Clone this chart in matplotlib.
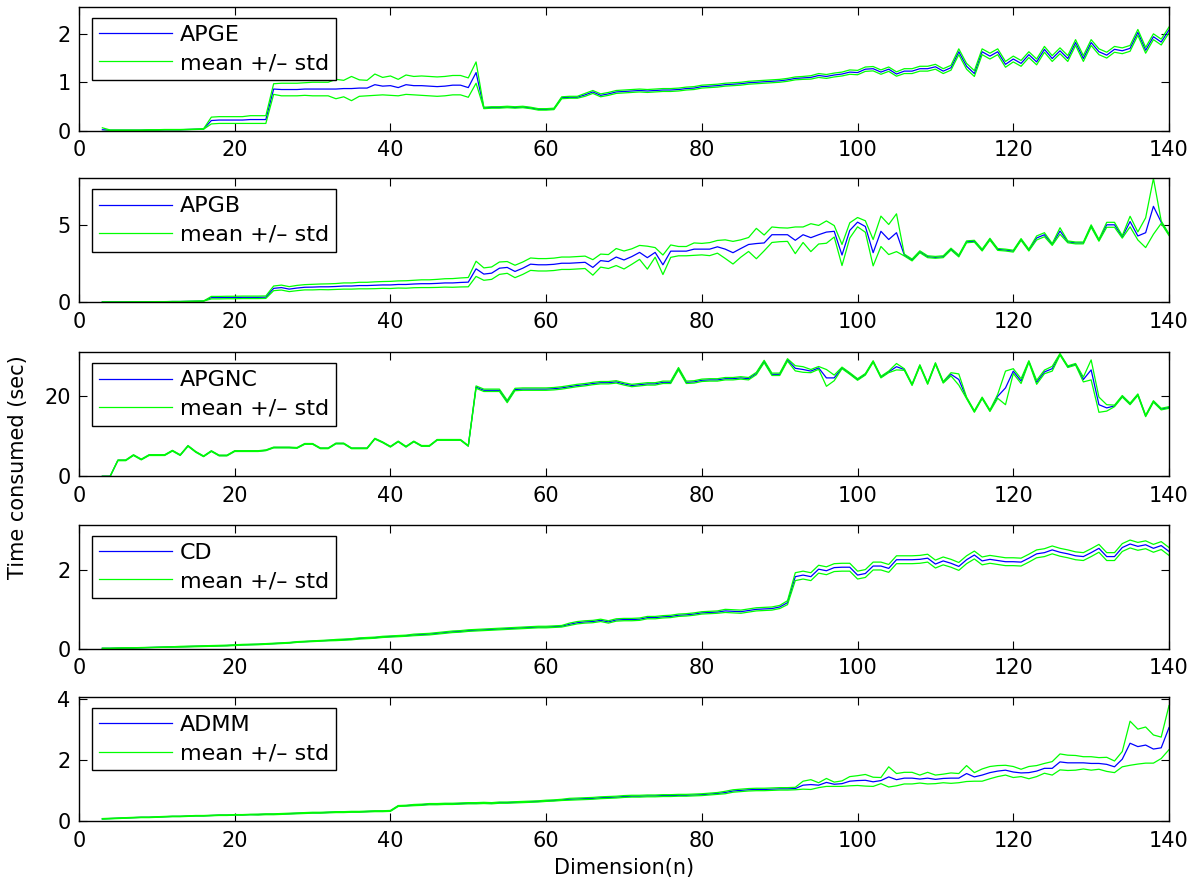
import numpy as np
import matplotlib
matplotlib.use('Agg')
import matplotlib.pyplot as plt

# ---------------- data (n = 3 .. 140) ----------------
n_values = list(range(3, 141))

method_names = ['APGE', 'APGB', 'APGNC', 'CD', 'ADMM']

apge_mean = [
    0.02, 0.01, 0.01, 0.01, 0.01, 0.01, 0.015, 0.015, 0.02, 0.02,
    0.02, 0.025, 0.03, 0.035, 0.21, 0.22, 0.22, 0.22, 0.22, 0.23,
    0.23, 0.23, 0.86, 0.85, 0.85, 0.85, 0.86, 0.86, 0.86, 0.86,
    0.86, 0.87, 0.87, 0.88, 0.88, 0.95, 0.92, 0.93, 0.89, 0.95,
    0.93, 0.93, 0.92, 0.91, 0.92, 0.94, 0.94, 0.89, 1.20, 0.47,
    0.48, 0.48, 0.49, 0.48, 0.49, 0.47, 0.44, 0.44, 0.45, 0.68,
    0.69, 0.69, 0.74, 0.80, 0.73, 0.76, 0.80, 0.81, 0.82, 0.83,
    0.82, 0.83, 0.84, 0.84, 0.85, 0.87, 0.88, 0.91, 0.92, 0.93,
    0.95, 0.96, 0.97, 0.99, 1.00, 1.01, 1.02, 1.03, 1.05, 1.08,
    1.09, 1.10, 1.14, 1.12, 1.15, 1.17, 1.21, 1.20, 1.27, 1.28,
    1.21, 1.27, 1.17, 1.23, 1.23, 1.28, 1.28, 1.32, 1.23, 1.30,
    1.63, 1.33, 1.18, 1.63, 1.54, 1.63, 1.37, 1.48, 1.39, 1.57,
    1.42, 1.68, 1.49, 1.65, 1.49, 1.82, 1.49, 1.82, 1.63, 1.56,
    1.68, 1.65, 1.70, 2.03, 1.66, 1.94, 1.83, 2.08]
apge_std = [
    0.04, 0.005, 0.005, 0.005, 0.005, 0.005, 0.005, 0.005, 0.005, 0.005,
    0.005, 0.005, 0.005, 0.005, 0.07, 0.07, 0.07, 0.07, 0.07, 0.08,
    0.08, 0.08, 0.11, 0.13, 0.13, 0.13, 0.13, 0.14, 0.14, 0.14,
    0.20, 0.17, 0.25, 0.17, 0.16, 0.22, 0.18, 0.20, 0.17, 0.20,
    0.19, 0.20, 0.20, 0.20, 0.20, 0.20, 0.20, 0.20, 0.22, 0.015,
    0.015, 0.015, 0.015, 0.015, 0.015, 0.015, 0.015, 0.015, 0.015, 0.02,
    0.02, 0.02, 0.03, 0.03, 0.03, 0.03, 0.03, 0.03, 0.03, 0.03,
    0.03, 0.03, 0.03, 0.03, 0.03, 0.03, 0.03, 0.03, 0.03, 0.03,
    0.03, 0.03, 0.03, 0.03, 0.03, 0.03, 0.03, 0.03, 0.03, 0.03,
    0.03, 0.035, 0.04, 0.04, 0.04, 0.04, 0.045, 0.045, 0.045, 0.045,
    0.045, 0.045, 0.045, 0.05, 0.05, 0.05, 0.05, 0.05, 0.05, 0.05,
    0.06, 0.06, 0.06, 0.06, 0.06, 0.06, 0.06, 0.06, 0.06, 0.06,
    0.06, 0.06, 0.06, 0.06, 0.06, 0.06, 0.06, 0.06, 0.06, 0.06,
    0.06, 0.06, 0.06, 0.06, 0.06, 0.06, 0.06, 0.06]

apgb_mean = [
    0.02, 0.02, 0.02, 0.02, 0.03, 0.03, 0.03, 0.04, 0.04, 0.05,
    0.05, 0.06, 0.07, 0.08, 0.30, 0.30, 0.31, 0.31, 0.32, 0.32,
    0.32, 0.33, 0.90, 0.95, 0.85, 0.92, 0.97, 0.98, 1.00, 1.00,
    1.02, 1.05, 1.05, 1.08, 1.08, 1.10, 1.12, 1.12, 1.15, 1.15,
    1.18, 1.20, 1.20, 1.22, 1.25, 1.25, 1.28, 1.30, 2.16, 1.82,
    1.88, 2.20, 2.25, 1.99, 2.20, 2.46, 2.42, 2.42, 2.45, 2.52,
    2.52, 2.55, 2.58, 2.25, 2.69, 2.63, 2.92, 2.73, 2.95, 3.22,
    2.88, 3.22, 2.42, 3.30, 3.30, 3.30, 3.43, 3.43, 3.43, 3.58,
    3.43, 3.20, 3.47, 3.73, 3.79, 3.83, 4.36, 4.36, 4.36, 4.00,
    4.36, 4.17, 4.36, 4.53, 4.58, 3.05, 4.64, 5.17, 4.89, 3.20,
    4.58, 4.05, 4.49, 3.05, 2.73, 3.26, 2.94, 2.90, 2.94, 3.43,
    2.99, 3.90, 3.94, 3.37, 4.07, 3.41, 3.37, 3.30, 4.05, 3.37,
    4.15, 4.36, 3.73, 4.60, 3.90, 3.83, 3.83, 4.92, 4.00, 5.00,
    5.00, 4.22, 5.21, 4.28, 4.49, 6.19, 5.17, 4.36]
apgb_std = [
    0.005, 0.005, 0.005, 0.005, 0.005, 0.005, 0.005, 0.005, 0.005, 0.005,
    0.005, 0.005, 0.005, 0.005, 0.08, 0.08, 0.08, 0.08, 0.08, 0.08,
    0.08, 0.08, 0.15, 0.16, 0.16, 0.17, 0.17, 0.18, 0.18, 0.19,
    0.19, 0.20, 0.20, 0.21, 0.21, 0.22, 0.22, 0.23, 0.23, 0.24,
    0.24, 0.25, 0.25, 0.26, 0.27, 0.28, 0.29, 0.30, 0.49, 0.40,
    0.40, 0.40, 0.38, 0.40, 0.40, 0.40, 0.40, 0.40, 0.40, 0.40,
    0.40, 0.40, 0.40, 0.50, 0.42, 0.45, 0.55, 0.58, 0.50, 0.45,
    0.74, 0.31, 0.63, 0.40, 0.30, 0.30, 0.40, 0.37, 0.42, 0.41,
    0.60, 0.73, 0.56, 0.45, 0.98, 0.51, 0.50, 0.45, 0.43, 0.86,
    0.50, 0.90, 0.60, 0.72, 0.37, 0.68, 0.49, 0.30, 0.37, 0.85,
    0.98, 0.97, 1.22, 0.06, 0.06, 0.06, 0.06, 0.06, 0.06, 0.06,
    0.06, 0.06, 0.06, 0.06, 0.06, 0.06, 0.06, 0.06, 0.06, 0.06,
    0.13, 0.13, 0.06, 0.21, 0.06, 0.06, 0.06, 0.08, 0.06, 0.16,
    0.16, 0.08, 0.34, 0.26, 0.96, 1.80, 0.08, 0.05]

apgnc_mean = [
    0.0, 0.0, 4.0, 4.0, 5.3, 4.2, 5.3, 5.3, 5.3, 6.4,
    5.3, 7.6, 6.1, 5.0, 6.3, 5.2, 5.2, 6.3, 6.3, 6.3,
    6.3, 6.5, 7.2, 7.2, 7.2, 7.1, 8.1, 8.1, 7.0, 7.0,
    8.2, 8.2, 7.0, 7.0, 7.0, 9.4, 8.5, 7.4, 8.7, 7.4,
    8.7, 7.6, 7.6, 9.1, 9.1, 9.1, 9.1, 7.6, 22.3, 21.5,
    21.5, 21.5, 18.7, 21.7, 21.8, 21.8, 21.8, 21.8, 21.9, 22.1,
    22.4, 22.7, 22.9, 23.2, 23.4, 23.4, 23.6, 23.1, 22.7, 22.9,
    23.1, 23.1, 23.5, 23.5, 26.9, 23.5, 23.6, 24.0, 24.1, 24.1,
    24.4, 24.4, 24.6, 24.4, 25.7, 28.7, 25.5, 25.5, 29.1, 27.0,
    26.7, 26.3, 27.1, 24.6, 24.6, 27.1, 25.7, 24.2, 25.5, 28.7,
    24.8, 26.1, 27.4, 26.7, 22.9, 27.7, 23.2, 28.2, 23.5, 25.5,
    24.2, 19.6, 16.2, 19.6, 16.4, 20.0, 22.1, 26.3, 23.8, 28.7,
    23.5, 26.1, 26.9, 30.5, 27.4, 28.0, 24.2, 26.6, 17.9, 17.1,
    17.6, 20.0, 18.1, 20.4, 15.1, 18.7, 16.8, 17.2]
apgnc_std = [
    0.0, 0.0, 0.1, 0.1, 0.1, 0.1, 0.1, 0.1, 0.1, 0.1,
    0.1, 0.1, 0.1, 0.1, 0.1, 0.1, 0.1, 0.1, 0.1, 0.1,
    0.1, 0.1, 0.1, 0.1, 0.1, 0.1, 0.1, 0.1, 0.1, 0.1,
    0.1, 0.1, 0.1, 0.1, 0.1, 0.1, 0.1, 0.1, 0.1, 0.1,
    0.1, 0.1, 0.1, 0.1, 0.1, 0.1, 0.1, 0.1, 0.3, 0.3,
    0.3, 0.3, 0.3, 0.3, 0.3, 0.3, 0.3, 0.3, 0.3, 0.3,
    0.3, 0.3, 0.3, 0.3, 0.3, 0.3, 0.3, 0.3, 0.3, 0.3,
    0.3, 0.3, 0.3, 0.3, 0.3, 0.3, 0.3, 0.3, 0.3, 0.3,
    0.3, 0.3, 0.3, 0.3, 0.3, 0.3, 0.3, 0.3, 0.3, 0.65,
    0.7, 0.4, 0.35, 2.1, 0.7, 0.2, 0.2, 0.2, 0.2, 0.2,
    0.2, 0.2, 0.8, 0.2, 0.2, 0.2, 0.2, 0.2, 0.2, 0.4,
    1.4, 0.2, 0.2, 0.2, 0.2, 0.5, 4.2, 0.6, 0.6, 0.2,
    0.5, 0.45, 0.6, 0.2, 0.2, 0.2, 0.6, 2.5, 1.9, 0.8,
    0.2, 0.2, 0.2, 0.2, 0.2, 0.2, 0.2, 0.2]

cd_mean = [
    0.01, 0.01, 0.015, 0.02, 0.02, 0.025, 0.03, 0.035, 0.04, 0.045,
    0.05, 0.055, 0.06, 0.065, 0.07, 0.075, 0.08, 0.09, 0.10, 0.105,
    0.11, 0.12, 0.13, 0.14, 0.15, 0.17, 0.18, 0.19, 0.20, 0.21,
    0.22, 0.23, 0.24, 0.26, 0.27, 0.28, 0.30, 0.31, 0.32, 0.33,
    0.35, 0.36, 0.37, 0.39, 0.41, 0.43, 0.44, 0.46, 0.47, 0.48,
    0.49, 0.50, 0.51, 0.52, 0.53, 0.54, 0.55, 0.55, 0.56, 0.57,
    0.62, 0.66, 0.68, 0.69, 0.72, 0.68, 0.73, 0.74, 0.74, 0.75,
    0.79, 0.79, 0.81, 0.82, 0.85, 0.86, 0.88, 0.91, 0.92, 0.93,
    0.96, 0.95, 0.94, 0.97, 1.00, 1.01, 1.02, 1.06, 1.17, 1.83,
    1.87, 1.83, 2.02, 1.98, 2.06, 2.07, 2.07, 1.87, 1.91, 2.10,
    2.10, 2.04, 2.26, 2.26, 2.26, 2.27, 2.30, 2.15, 2.23, 2.17,
    2.09, 2.26, 2.38, 2.23, 2.27, 2.24, 2.21, 2.21, 2.20, 2.30,
    2.41, 2.44, 2.51, 2.45, 2.41, 2.36, 2.34, 2.44, 2.55, 2.34,
    2.34, 2.57, 2.66, 2.60, 2.64, 2.55, 2.62, 2.47]
cd_std = [
    0.005, 0.005, 0.005, 0.005, 0.005, 0.005, 0.005, 0.005, 0.005, 0.005,
    0.01, 0.01, 0.01, 0.01, 0.01, 0.01, 0.01, 0.01, 0.01, 0.01,
    0.01, 0.01, 0.01, 0.01, 0.01, 0.01, 0.01, 0.01, 0.01, 0.01,
    0.015, 0.015, 0.015, 0.015, 0.015, 0.015, 0.015, 0.015, 0.015, 0.015,
    0.02, 0.02, 0.02, 0.02, 0.02, 0.02, 0.02, 0.02, 0.02, 0.02,
    0.02, 0.02, 0.02, 0.02, 0.02, 0.02, 0.02, 0.02, 0.02, 0.02,
    0.03, 0.03, 0.03, 0.03, 0.03, 0.03, 0.03, 0.03, 0.03, 0.03,
    0.03, 0.03, 0.03, 0.03, 0.03, 0.03, 0.03, 0.03, 0.03, 0.03,
    0.04, 0.04, 0.04, 0.04, 0.04, 0.04, 0.04, 0.04, 0.05, 0.10,
    0.10, 0.10, 0.10, 0.10, 0.10, 0.10, 0.10, 0.10, 0.10, 0.10,
    0.10, 0.10, 0.10, 0.10, 0.10, 0.10, 0.10, 0.10, 0.10, 0.10,
    0.10, 0.10, 0.10, 0.10, 0.10, 0.10, 0.10, 0.10, 0.10, 0.10,
    0.10, 0.10, 0.10, 0.10, 0.10, 0.10, 0.10, 0.10, 0.10, 0.10,
    0.10, 0.10, 0.10, 0.10, 0.10, 0.10, 0.10, 0.10]

admm_mean = [
    0.07, 0.08, 0.09, 0.10, 0.11, 0.12, 0.12, 0.13, 0.14, 0.15,
    0.15, 0.16, 0.17, 0.17, 0.18, 0.19, 0.19, 0.20, 0.20, 0.21,
    0.21, 0.22, 0.22, 0.23, 0.24, 0.25, 0.26, 0.27, 0.27, 0.28,
    0.29, 0.29, 0.30, 0.30, 0.31, 0.32, 0.32, 0.33, 0.49, 0.50,
    0.52, 0.53, 0.55, 0.55, 0.56, 0.56, 0.57, 0.58, 0.58, 0.59,
    0.58, 0.60, 0.60, 0.61, 0.62, 0.63, 0.64, 0.66, 0.67, 0.69,
    0.71, 0.72, 0.73, 0.74, 0.76, 0.77, 0.78, 0.80, 0.81, 0.81,
    0.82, 0.82, 0.83, 0.83, 0.84, 0.84, 0.85, 0.86, 0.88, 0.90,
    0.93, 0.98, 1.00, 1.02, 1.03, 1.03, 1.04, 1.05, 1.05, 1.06,
    1.17, 1.19, 1.17, 1.26, 1.20, 1.22, 1.30, 1.32, 1.33, 1.28,
    1.32, 1.44, 1.35, 1.40, 1.40, 1.37, 1.40, 1.36, 1.39, 1.40,
    1.40, 1.55, 1.44, 1.50, 1.58, 1.63, 1.66, 1.60, 1.57, 1.58,
    1.63, 1.72, 1.72, 1.93, 1.90, 1.90, 1.90, 1.88, 1.88, 1.85,
    1.77, 2.02, 2.54, 2.43, 2.48, 2.35, 2.39, 3.05]
admm_std = [
    0.01, 0.01, 0.01, 0.01, 0.01, 0.01, 0.01, 0.01, 0.01, 0.01,
    0.01, 0.01, 0.01, 0.01, 0.01, 0.01, 0.01, 0.01, 0.01, 0.01,
    0.015, 0.015, 0.015, 0.015, 0.015, 0.015, 0.015, 0.015, 0.015, 0.015,
    0.015, 0.015, 0.015, 0.015, 0.015, 0.015, 0.015, 0.015, 0.015, 0.015,
    0.02, 0.02, 0.02, 0.02, 0.02, 0.02, 0.02, 0.02, 0.02, 0.02,
    0.02, 0.02, 0.02, 0.02, 0.02, 0.02, 0.02, 0.02, 0.02, 0.02,
    0.03, 0.03, 0.03, 0.03, 0.03, 0.03, 0.03, 0.03, 0.03, 0.03,
    0.03, 0.03, 0.03, 0.03, 0.03, 0.03, 0.03, 0.03, 0.03, 0.03,
    0.04, 0.04, 0.04, 0.04, 0.04, 0.04, 0.04, 0.04, 0.04, 0.04,
    0.13, 0.16, 0.08, 0.13, 0.07, 0.09, 0.15, 0.16, 0.19, 0.15,
    0.10, 0.33, 0.20, 0.19, 0.19, 0.13, 0.19, 0.14, 0.14, 0.17,
    0.15, 0.26, 0.14, 0.20, 0.20, 0.18, 0.16, 0.18, 0.12, 0.20,
    0.18, 0.16, 0.22, 0.26, 0.25, 0.24, 0.20, 0.22, 0.19, 0.23,
    0.19, 0.25, 0.72, 0.57, 0.59, 0.46, 0.35, 0.72]

x_ticks = [0, 20, 40, 60, 80, 100, 120, 140]
y_ticks = [[0, 1, 2], [0, 5], [0, 20], [0, 2], [0, 2, 4]]
y_limits = [(0, 2.56), (0, 8.0), (0, 31.0), (0, 3.15), (0, 4.05)]

means = [apge_mean, apgb_mean, apgnc_mean, cd_mean, admm_mean]
stds = [apge_std, apgb_std, apgnc_std, cd_std, admm_std]

# ---------------- figure ----------------
plt.rcParams['font.family'] = ['DejaVu Sans']
W, H = 1202, 886
fig = plt.figure(figsize=(W / 100, H / 100), dpi=100)

left_px, right_px = 79, 1169
tops_px = [6.7, 178.3, 352.3, 524.7, 697.0]
height_px = 124.0
FS = 15
LEG_FS = 16

x = np.array(n_values)
for i, name in enumerate(method_names):
    m = np.array(means[i])
    s = np.array(stds[i])
    assert len(m) == len(x) and len(s) == len(x), (name, len(m), len(s))
    ax = fig.add_axes([left_px / W, 1 - (tops_px[i] + height_px) / H,
                       (right_px - left_px) / W, height_px / H])
    hb, = ax.plot(x, m, color=(0, 0, 1), lw=0.9, label=name)
    hg, = ax.plot(x, m + s, color=(0, 1, 0), lw=0.9, label='mean +/\u2013 std')
    ax.plot(x, m - s, color=(0, 1, 0), lw=0.9)
    ax.set_xlim(0, 140)
    ax.set_ylim(*y_limits[i])
    ax.set_xticks(x_ticks)
    ax.set_yticks(y_ticks[i])
    ax.tick_params(direction='in', top=True, right=True, length=6, width=0.8,
                   labelsize=FS, colors='black')
    ax.tick_params(axis='x', pad=7)
    ax.tick_params(axis='y', pad=6)
    for sp in ax.spines.values():
        sp.set_linewidth(1.0)
        sp.set_color('black')
    leg = ax.legend(handles=[hb, hg], loc='upper left',
                    bbox_to_anchor=(12.6 / 1090, 1 - 11 / 124),
                    borderaxespad=0, fontsize=LEG_FS, frameon=True, fancybox=False,
                    framealpha=1, edgecolor='black', borderpad=0.32,
                    labelspacing=0.37, handlelength=3.3, handletextpad=0.36)
    leg.get_frame().set_linewidth(1.0)

fig.text(18 / W, 1 - 467 / H, 'Time consumed (sec)', rotation=90,
         ha='center', va='center', fontsize=FS)
fig.text(624 / W, 1 - 868 / H, 'Dimension(n)', ha='center', va='center',
         fontsize=FS)

fig.savefig('out.png', dpi=100, facecolor='white')
